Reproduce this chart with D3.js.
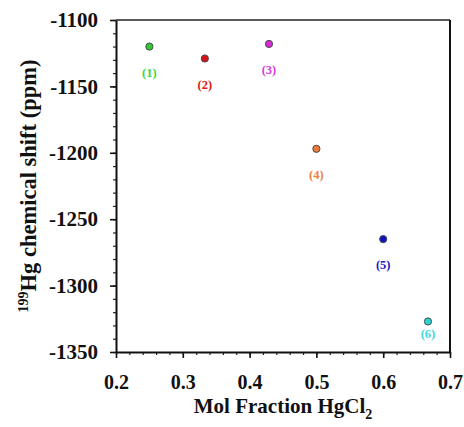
<!DOCTYPE html>
<html><head><meta charset="utf-8">
<script src="https://cdn.jsdelivr.net/npm/d3@7"></script>
<style>
html,body{margin:0;padding:0;background:#fff;}
svg{display:block;}
text{font-family:"Liberation Serif","Times New Roman",serif;font-weight:bold;}
</style></head><body>
<svg id="c" width="464" height="427"></svg>
<script>
// ---- data ----
const labels = ["(1)", "(2)", "(3)", "(4)", "(5)", "(6)"];
const molFraction = [0.25, 0.333, 0.429, 0.5, 0.6, 0.667];
const shift = [-1120, -1129, -1118, -1197, -1265, -1327];
const fillColors = ["#2ccc2c", "#d41414", "#d62ad6", "#ee7a3a", "#1010c8", "#2ad4d4"];
const labelColors = ["#3ad83a", "#d81818", "#d83ad8", "#f08040", "#1818c0", "#40d8e0"];
const xTicks = [0.2, 0.3, 0.4, 0.5, 0.6, 0.7];
const xTickLabels = ["0.2", "0.3", "0.4", "0.5", "0.6", "0.7"];
const yTicks = [-1100, -1150, -1200, -1250, -1300, -1350];
const yTickLabels = ["-1100", "-1150", "-1200", "-1250", "-1300", "-1350"];
const xMinorStep = 0.02, yMinorStep = 10;

// ---- layout ----
const L = 116, R = 450, T = 20, B = 352;
const FONT = "'Liberation Serif','Times New Roman',serif";
const svg = d3.select("#c");
const x = d3.scaleLinear().domain([0.2, 0.7]).range([L, R]);
const y = d3.scaleLinear().domain([-1350, -1100]).range([B, T]);

const xMinor = d3.range(0, 26).map(i => +(0.2 + i * xMinorStep).toFixed(3));
const yMinor = d3.range(0, 26).map(i => -1350 + i * yMinorStep);

// frame top & right
svg.append("line").attr("x1", L).attr("x2", R).attr("y1", T).attr("y2", T)
  .attr("stroke", "#222").attr("stroke-width", 1.5);
svg.append("line").attr("x1", R).attr("x2", R).attr("y1", T).attr("y2", B)
  .attr("stroke", "#111").attr("stroke-width", 2);

// minor ticks
svg.append("g").attr("transform", `translate(0,${B})`)
  .call(d3.axisBottom(x).tickValues(xMinor).tickSize(3).tickSizeOuter(0).tickFormat(""))
  .call(g => g.select(".domain").remove())
  .selectAll("line").attr("stroke", "#222").attr("stroke-width", 1.2);
svg.append("g").attr("transform", `translate(${L},0)`)
  .call(d3.axisLeft(y).tickValues(yMinor).tickSize(3).tickSizeOuter(0).tickFormat(""))
  .call(g => g.select(".domain").remove())
  .selectAll("line").attr("stroke", "#222").attr("stroke-width", 1.2);

// major axes
const xa = svg.append("g").attr("transform", `translate(0,${B})`)
  .call(d3.axisBottom(x).tickValues(xTicks).tickSize(6).tickSizeOuter(0).tickPadding(17)
    .tickFormat((d, i) => xTickLabels[i]));
const ya = svg.append("g").attr("transform", `translate(${L},0)`)
  .call(d3.axisLeft(y).tickValues(yTicks).tickSize(6).tickSizeOuter(0).tickPadding(12)
    .tickFormat((d, i) => yTickLabels[i]));
[xa, ya].forEach(g => {
  g.select(".domain").attr("stroke", "#111").attr("stroke-width", 2);
  g.selectAll(".tick line").attr("stroke", "#111").attr("stroke-width", 1.6);
  g.selectAll(".tick text").attr("fill", "#111")
    .style("font-family", FONT).style("font-weight", "bold");
});
xa.selectAll(".tick text").style("font-size", "20px");
ya.selectAll(".tick text").style("font-size", "21px");

// points
const pts = molFraction.map((m, i) => ({m, s: shift[i], i}));
svg.append("g").selectAll("circle").data(pts).join("circle")
  .attr("cx", d => x(d.m)).attr("cy", d => y(d.s)).attr("r", 3.6)
  .attr("fill", d => fillColors[d.i]).attr("stroke", "#4a4a4a").attr("stroke-width", 1);

svg.append("g").selectAll("text").data(pts).join("text")
  .attr("x", d => x(d.m))
  .attr("y", d => y(d.s) + Math.min(26, (B - y(d.s)) - 18) + 4)
  .attr("text-anchor", "middle")
  .attr("fill", d => labelColors[d.i])
  .style("font-family", FONT).style("font-weight", "bold")
  .style("font-size", "12.5px")
  .text(d => labels[d.i]);

// axis titles
const xt = svg.append("text").attr("x", (L + R) / 2).attr("y", 413)
  .attr("text-anchor", "middle").attr("fill", "#111")
  .style("font-family", FONT).style("font-size", "21px");
xt.append("tspan").text("Mol Fraction HgCl");
xt.append("tspan").attr("dy", 6).style("font-size", "14px").text("2");

const yt = svg.append("text").attr("transform", `translate(36,${(T + B) / 2}) rotate(-90)`)
  .attr("text-anchor", "middle").attr("fill", "#111")
  .style("font-family", FONT).style("font-size", "22.5px");
yt.append("tspan").attr("dy", -8).style("font-size", "14px").text("199");
yt.append("tspan").attr("dy", 8).text("Hg chemical shift (ppm)");
</script>
</body></html>
